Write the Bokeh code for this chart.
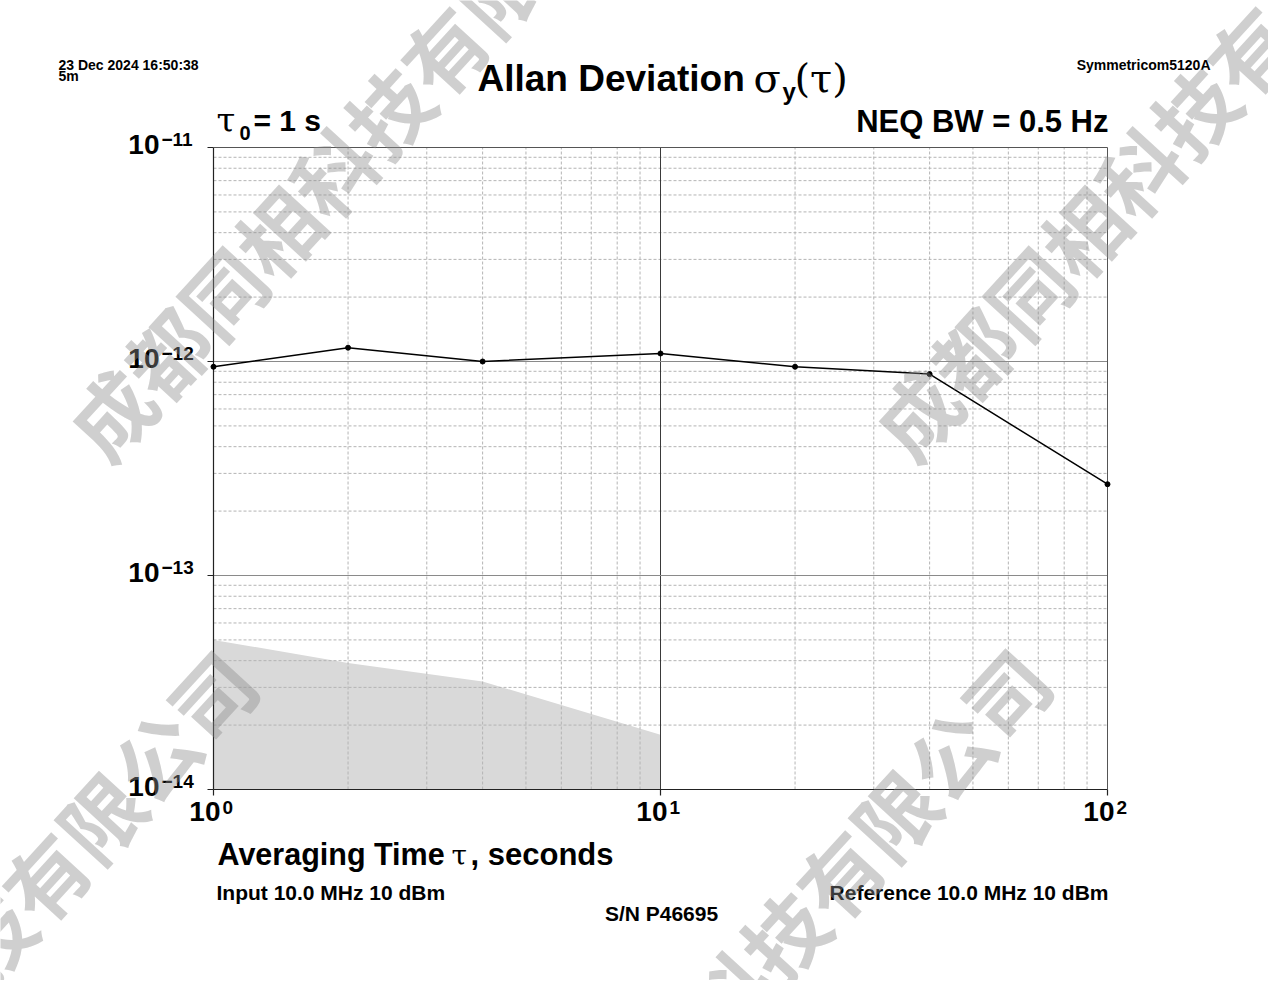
import math
from bokeh.plotting import figure
from bokeh.models import Range1d, LinearScale, Grid
from bokeh.core.properties import value
from bokeh.embed import file_html
from bokeh.resources import INLINE

# ---- data ----
tau = [1, 2, 4, 10, 20, 40, 100]
adev = [9.45e-13, 1.16e-12, 1.0e-12, 1.09e-12, 9.45e-13, 8.73e-13, 2.67e-13]
floor_tau = [1, 2, 4, 10]
floor_adev = [5.0e-14, 3.9e-14, 3.2e-14, 1.8e-14]
x_lo, x_hi = 1, 100
y_lo, y_hi = 1e-14, 1e-11
x_major = [1, 10, 100]
y_major = [1e-14, 1e-13, 1e-12, 1e-11]
x_minor = [m * 10 ** d for d in (0, 1) for m in range(2, 10)]
y_minor = [m * 10.0 ** d for d in (-14, -13, -12) for m in range(2, 10)]

# ---- layout (page pixels) ----
W, H = 1268, 980
PX0, PX1 = 213, 1107      # plot box left / right
PY0, PY1 = 147, 789       # plot box top / bottom

dx = (PX1 - PX0) / math.log10(x_hi / x_lo)
dy = (PY1 - PY0) / math.log10(y_hi / y_lo)
x_start = x_lo * 10 ** (-PX0 / dx)
x_end = x_hi * 10 ** ((W - PX1) / dx)
y_start = y_lo * 10 ** (-(H - PY1) / dy)
y_end = y_hi * 10 ** (PY0 / dy)

p = figure(width=W, height=H, x_axis_type="log", y_axis_type="log",
           x_range=Range1d(x_start, x_end), y_range=Range1d(y_start, y_end),
           x_axis_location=None, y_axis_location=None,
           min_border=0, min_border_left=0, min_border_right=0,
           min_border_top=0, min_border_bottom=0,
           extra_x_ranges={"px": Range1d(0, W)},
           extra_y_ranges={"py": Range1d(H, 0)},
           extra_x_scales={"px": LinearScale()},
           extra_y_scales={"py": LinearScale()},
           output_backend="svg", toolbar_location=None)
p.outline_line_color = None
p.background_fill_color = "white"
p.border_fill_color = "white"
for g in p.select(type=Grid):
    g.visible = False

# noise floor shaded region
p.varea(x=floor_tau, y1=[y_lo] * len(floor_tau), y2=floor_adev,
        fill_color="#d9d9d9")

# minor grid
p.segment(x0=x_minor, y0=[y_lo] * len(x_minor), x1=x_minor, y1=[y_hi] * len(x_minor),
          line_color="#b4b4b4", line_dash="3 2", line_width=1)
p.segment(x0=[x_lo] * len(y_minor), y0=y_minor, x1=[x_hi] * len(y_minor), y1=y_minor,
          line_color="#b4b4b4", line_dash="3 2", line_width=1)
# major grid
xm_in = x_major[1:-1]
ym_in = y_major[1:-1]
p.segment(x0=xm_in, y0=[y_lo] * len(xm_in), x1=xm_in, y1=[y_hi] * len(xm_in),
          line_color="#3a3a3a", line_width=1)
p.segment(x0=[x_lo] * len(ym_in), y0=ym_in, x1=[x_hi] * len(ym_in), y1=ym_in,
          line_color="#8a8a8a", line_width=1)
# plot box: axes (left, bottom) and top/right border
p.segment(x0=[x_lo, x_lo], y0=[y_lo, y_lo], x1=[x_lo, x_hi], y1=[y_hi, y_lo],
          line_color="#222222", line_width=1.2)
p.segment(x0=[x_lo, x_hi], y0=[y_hi, y_lo], x1=[x_hi, x_hi], y1=[y_hi, y_hi],
          line_color="#555555", line_width=1)
# outward major ticks
p.segment(x0=x_major, y0=[PY1] * len(x_major), x1=x_major, y1=[PY1 + 6] * len(x_major),
          y_range_name="py", line_color="#222222", line_width=1.2)
p.segment(x0=[PX0 - 6] * len(y_major), y0=y_major, x1=[PX0] * len(y_major), y1=y_major,
          x_range_name="px", line_color="#222222", line_width=1.2)

# measured data
p.line(tau, adev, line_color="black", line_width=1.5)
p.scatter(tau, adev, size=5, color="black")

BASE_CORR = 0.4   # alphabetic-baseline correction (fraction of font size)


def txt(xs, ys, texts, size, font="Liberation Sans", style="bold", align="left",
        baseline="alphabetic", color="black", angle=0.0, alpha=1.0,
        xr="px", yr="py", x_offset=0, y_offset=0):
    if baseline == "alphabetic":
        y_offset = y_offset - BASE_CORR * size
    p.text(x=xs, y=ys, text=texts, x_range_name=xr, y_range_name=yr,
           text_font=value(font), text_font_size=value(f"{size}px"),
           text_font_style=style, text_align=align, text_baseline=baseline,
           text_color=color, angle=angle, text_alpha=alpha,
           x_offset=x_offset, y_offset=y_offset)


# tick labels (10 with superscript exponent)
x_exp = [str(int(round(math.log10(v)))) for v in x_major]
y_exp = [str(int(round(math.log10(v)))).replace("-", "\u2212") for v in y_major]
txt(x_major, [PY1 + 33] * len(x_major), ["10"] * len(x_major), 28,
    align="right", xr="default", x_offset=7)
txt(x_major, [PY1 + 26] * len(x_major), x_exp, 19,
    align="left", xr="default", x_offset=9)
txt([159] * len(y_major), y_major, ["10"] * len(y_major), 28,
    align="right", yr="default", y_offset=8)
txt([161] * len(y_major), y_major, y_exp, 19,
    align="left", yr="default", y_offset=0)

# header
txt([58], [70], ["23 Dec 2024 16:50:38"], 14)
txt([58], [81], ["5m"], 14)
txt([1210], [70], ["Symmetricom5120A"], 14, align="right")
txt([477], [93], ["Allan Deviation"], 37)
txt([753], [93], ["σ"], 40, font="DejaVu Serif", style="normal")
txt([782], [101], ["y"], 24)
txt([794], [93], ["(τ)"], 40, font="DejaVu Serif", style="normal")
txt([216], [133], ["τ"], 34, font="DejaVu Serif", style="normal")
txt([239], [140], ["0"], 20)
txt([253], [132], ["= 1 s"], 30)
txt([1108], [133], ["NEQ BW = 0.5 Hz"], 31, align="right")

# footer
txt([217], [866], ["Averaging Time"], 30.5)
txt([451], [866], ["τ"], 28, font="DejaVu Serif", style="normal")
txt([470], [866], [", seconds"], 31)
txt([216], [900], ["Input 10.0 MHz 10 dBm"], 21)
txt([1108], [900], ["Reference 10.0 MHz 10 dBm"], 21, align="right")
txt([661], [921], ["S/N P46695"], 21, align="center")

# watermark (diagonal repeated company name, one glyph per character)
wm = "成都同相科技有限公司"
ang = math.radians(47.5)
step = 82
ux, uy = math.cos(ang), -math.sin(ang)
rows = [((110, 412), 0), ((916, 412), 0), ((210, 694), 9), ((1004, 692), 9)]
wx, wy, wt = [], [], []
for (cx, cy), idx in rows:
    for i, ch in enumerate(wm):
        k = i - idx
        x = cx + k * step * ux
        y = cy + k * step * uy
        if -30 < x < W + 30 and -30 < y < H + 30:
            wx.append(x)
            wy.append(y)
            wt.append(ch)
txt(wx, wy, wt, 82, font="Noto Sans CJK SC", align="center",
    baseline="middle", color="#8c8c8c", angle=ang, alpha=0.42)

open("out.html", "w").write(file_html(p, INLINE))
